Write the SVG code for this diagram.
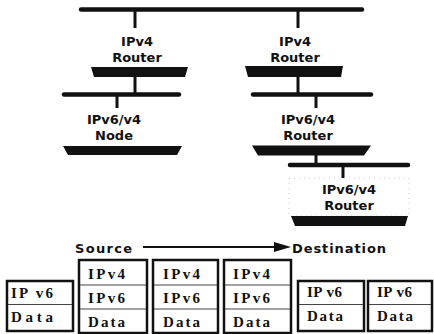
<svg xmlns="http://www.w3.org/2000/svg" width="434" height="334" viewBox="0 0 434 334">
  <style>
    .bus { stroke: #111; stroke-width: 4.5; stroke-linecap: round; fill: none; }
    .stem { stroke: #111; stroke-width: 3; fill: none; }
    .base { fill: #111; }
    .lbl { font-family: "DejaVu Sans", "Liberation Sans", sans-serif; font-weight: bold; font-size: 13px; fill: #111; text-anchor: middle; }
    .cap { font-family: "DejaVu Sans", "Liberation Sans", sans-serif; font-weight: bold; font-size: 13px; fill: #111; }
    .frame { fill: none; stroke: #c8c8c8; stroke-width: 1; stroke-dasharray: 1 4; }
    .pkt { fill: #fff; stroke: #111; stroke-width: 2.5; }
    .div { stroke: #444; stroke-width: 1; }
    .fld { font-family: "Liberation Serif", "DejaVu Serif", serif; font-weight: bold; font-size: 15px; fill: #111; }
  </style>

  <!-- network segments and drops -->
  <g id="connectors">
    <line class="bus" x1="81" y1="9.5" x2="362" y2="9.5"/>
    <line class="stem" x1="135" y1="10" x2="135" y2="28"/>
    <line class="stem" x1="298" y1="10" x2="298" y2="28"/>
    <line class="stem" x1="135" y1="77" x2="135" y2="94"/>
    <line class="stem" x1="298" y1="77" x2="298" y2="94"/>
    <line class="bus" x1="64" y1="94.5" x2="179" y2="94.5"/>
    <line class="bus" x1="253" y1="94.5" x2="371" y2="94.5"/>
    <line class="stem" x1="117" y1="95" x2="117" y2="108"/>
    <line class="stem" x1="316" y1="95" x2="316" y2="108"/>
    <line class="stem" x1="316" y1="155" x2="316" y2="165"/>
    <line class="bus" x1="290" y1="165" x2="408" y2="165"/>
    <line class="stem" x1="343" y1="165" x2="343" y2="178"/>
  </g>

  <g id="ipv4-router-left">
    <text class="lbl" x="137" y="46">IPv4</text>
    <text class="lbl" x="137" y="62">Router</text>
    <polygon class="base" points="91,67 188,67 185,77 94,77"/>
  </g>

  <g id="ipv4-router-right">
    <text class="lbl" x="295" y="46">IPv4</text>
    <text class="lbl" x="295" y="62">Router</text>
    <polygon class="base" points="245,66 343,66 341,77 248,77"/>
  </g>

  <g id="dual-node">
    <text class="lbl" x="114" y="124">IPv6/v4</text>
    <text class="lbl" x="114" y="140">Node</text>
    <polygon class="base" points="63,146 182,146 177,155 68,155"/>
  </g>

  <g id="dual-router-mid">
    <text class="lbl" x="308" y="124">IPv6/v4</text>
    <text class="lbl" x="308" y="140">Router</text>
    <polygon class="base" points="252,145.5 371,145.5 364,155.5 258,155.5"/>
  </g>

  <g id="dual-router-low">
    <rect class="frame" x="289" y="178" width="120" height="38"/>
    <text class="lbl" x="349" y="194">IPv6/v4</text>
    <text class="lbl" x="349" y="210">Router</text>
    <polygon class="base" points="291,216 408,216 405,226 295,226"/>
  </g>

  <!-- direction of travel -->
  <g id="direction">
    <text class="cap" x="75" y="253" textLength="57" lengthAdjust="spacing">Source</text>
    <line x1="143" y1="247" x2="276" y2="247" stroke="#111" stroke-width="2"/>
    <polygon points="274,242 291,247 274,252" fill="#111"/>
    <text class="cap" x="292" y="253" textLength="94" lengthAdjust="spacing">Destination</text>
  </g>

  <!-- packet at each hop -->
  <g id="pkt-1">
    <rect class="pkt" x="7" y="281" width="66" height="50"/>
    <line class="div" x1="8" y1="304.5" x2="72" y2="304.5"/>
    <text class="fld" x="11" y="298" textLength="42" lengthAdjust="spacing">IP v6</text>
    <text class="fld" x="11" y="322" textLength="42" lengthAdjust="spacing">Data</text>
  </g>
  <g id="pkt-2">
    <rect class="pkt" x="79" y="260" width="68" height="73"/>
    <line class="div" x1="80" y1="285" x2="146" y2="285"/>
    <line class="div" x1="80" y1="309" x2="146" y2="309"/>
    <text class="fld" x="88" y="279" textLength="37" lengthAdjust="spacing">IPv4</text>
    <text class="fld" x="88" y="303" textLength="37" lengthAdjust="spacing">IPv6</text>
    <text class="fld" x="88" y="327" textLength="37" lengthAdjust="spacing">Data</text>
  </g>
  <g id="pkt-3">
    <rect class="pkt" x="153" y="260" width="65" height="73"/>
    <line class="div" x1="154" y1="285" x2="217" y2="285"/>
    <line class="div" x1="154" y1="309" x2="217" y2="309"/>
    <text class="fld" x="163" y="279" textLength="37" lengthAdjust="spacing">IPv4</text>
    <text class="fld" x="163" y="303" textLength="37" lengthAdjust="spacing">IPv6</text>
    <text class="fld" x="163" y="327" textLength="37" lengthAdjust="spacing">Data</text>
  </g>
  <g id="pkt-4">
    <rect class="pkt" x="224" y="260" width="67" height="73"/>
    <line class="div" x1="225" y1="285" x2="290" y2="285"/>
    <line class="div" x1="225" y1="309" x2="290" y2="309"/>
    <text class="fld" x="233" y="279" textLength="37" lengthAdjust="spacing">IPv4</text>
    <text class="fld" x="233" y="303" textLength="37" lengthAdjust="spacing">IPv6</text>
    <text class="fld" x="233" y="327" textLength="37" lengthAdjust="spacing">Data</text>
  </g>
  <g id="pkt-5">
    <rect class="pkt" x="298" y="281" width="66" height="50"/>
    <line class="div" x1="299" y1="304.5" x2="363" y2="304.5"/>
    <text class="fld" x="307" y="297" textLength="35" lengthAdjust="spacing">IP v6</text>
    <text class="fld" x="307" y="321" textLength="36" lengthAdjust="spacing">Data</text>
  </g>
  <g id="pkt-6">
    <rect class="pkt" x="368" y="281" width="64" height="50"/>
    <line class="div" x1="369" y1="304.5" x2="431" y2="304.5"/>
    <text class="fld" x="377" y="297" textLength="35" lengthAdjust="spacing">IP v6</text>
    <text class="fld" x="377" y="321" textLength="36" lengthAdjust="spacing">Data</text>
  </g>
</svg>
